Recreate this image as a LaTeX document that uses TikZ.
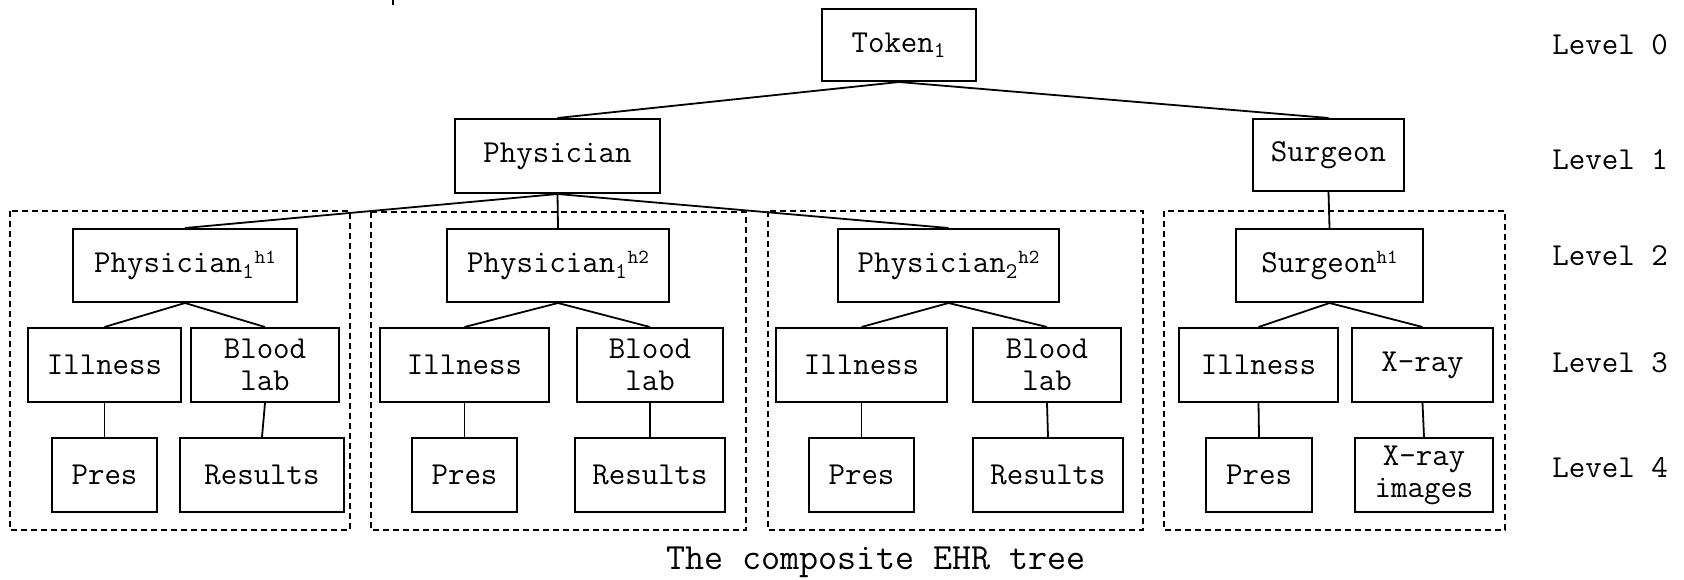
\documentclass[tikz,border=0pt]{standalone}
\usepackage{fontspec}
\setmonofont{Latin Modern Mono}
\newcommand\nodefont{\ttfamily\fontsize{16}{16}\selectfont}
\newcommand\capfont{\ttfamily\fontsize{18.5}{20}\selectfont}
\newcommand\sups[1]{\raisebox{0.3em}{\fontsize{10}{10}\selectfont #1}}
\begin{document}
\begin{tikzpicture}[x=0.5pt, y=-0.5pt,
  box/.style={draw, line width=1pt, inner sep=0pt, font=\nodefont, align=center},
  group/.style={draw, dash pattern=on 3pt off 2pt, line width=0.9pt},
  link/.style={line width=0.9pt},
  lvl/.style={anchor=west, inner sep=0pt, font=\nodefont}]
\useasboundingbox (0,0) rectangle (1684,579);

% stray tick at the top edge
\draw[line width=1.2pt] (393,0) -- (393,5);

% dashed groups
\draw[group] (10,211) rectangle (350,530);
\draw[group] (371,212) rectangle (746,530);
\draw[group] (768,211) rectangle (1143,530);
\draw[group] (1164,211) rectangle (1505,530);

% level 0 and 1
\node[box, minimum width=77pt, minimum height=36pt] (tok) at (899,45) {Token\textsubscript{1}};
\node[box, minimum width=102.5pt, minimum height=37pt] (phy) at (557.5,156) {Physician};
\node[box, minimum width=75.5pt, minimum height=36pt] (sur) at (1328.5,155) {Surgeon};

% level 2
\node[box, minimum width=112pt, minimum height=36.5pt] (pa) at (185,265.5) {Physician\textsubscript{1}\sups{h1}};
\node[box, minimum width=111pt, minimum height=36.5pt] (pb) at (558,265.5) {Physician\textsubscript{1}\sups{h2}};
\node[box, minimum width=110.5pt, minimum height=36.5pt] (pc) at (948.5,265.5) {Physician\textsubscript{2}\sups{h2}};
\node[box, minimum width=93.5pt, minimum height=36.5pt] (sa) at (1329.5,265.5) {Surgeon\sups{h1}};

% level 3
\node[box, minimum width=76.5pt, minimum height=37pt] (ia) at (104.5,365) {Illness};
\node[box, minimum width=74pt, minimum height=37pt] (ba) at (265,365) {Blood\\lab};
\node[box, minimum width=84.5pt, minimum height=37pt] (ib) at (464.5,365) {Illness};
\node[box, minimum width=73pt, minimum height=37pt] (bb) at (650,365) {Blood\\lab};
\node[box, minimum width=85.5pt, minimum height=37pt] (ic) at (861.5,365) {Illness};
\node[box, minimum width=74pt, minimum height=37pt] (bc) at (1047,365) {Blood\\lab};
\node[box, minimum width=79.5pt, minimum height=37pt] (id) at (1258.5,365) {Illness};
\node[box, minimum width=70.5pt, minimum height=37pt] (xd) at (1422.5,365) {X-ray};

% level 4
\node[box, minimum width=52.5pt, minimum height=37pt] (pra) at (104.5,475) {Pres};
\node[box, minimum width=82pt, minimum height=37pt] (ra) at (262,475) {Results};
\node[box, minimum width=52.5pt, minimum height=37pt] (prb) at (464.5,475) {Pres};
\node[box, minimum width=75pt, minimum height=37pt] (rb) at (650,475) {Results};
\node[box, minimum width=52.5pt, minimum height=37pt] (prc) at (861.5,475) {Pres};
\node[box, minimum width=75pt, minimum height=37pt] (rc) at (1048,475) {Results};
\node[box, minimum width=53pt, minimum height=37pt] (prd) at (1259,475) {Pres};
\node[box, minimum width=69pt, minimum height=37pt] (xid) at (1424,475) {X-ray\\images};

% connectors
\draw[link] (tok.south) -- (phy.north);
\draw[link] (tok.south) -- (sur.north);
\draw[link] (phy.south) -- (pa.north);
\draw[link] (phy.south) -- (pb.north);
\draw[link] (phy.south) -- (pc.north);
\draw[link] (sur.south) -- (sa.north);
\foreach \p/\l/\r in {pa/ia/ba, pb/ib/bb, pc/ic/bc, sa/id/xd}{
  \draw[link] (\p.south) -- (\l.north);
  \draw[link] (\p.south) -- (\r.north);
}
\foreach \u/\d in {ia/pra, ba/ra, ib/prb, bb/rb, ic/prc, bc/rc, id/prd, xd/xid}{
  \draw[link] (\u.south) -- (\d.north);
}

% level labels
\node[lvl] (l0) at (1552,45) {Level 0};
\node[lvl] (l1) at (1552,160) {Level 1};
\node[lvl] (l2) at (1552,256) {Level 2};
\node[lvl] (l3) at (1552,363) {Level 3};
\node[lvl] (l4) at (1552,468) {Level 4};

% caption
\node[inner sep=0pt, font=\capfont] (cap) at (876,562) {The composite EHR tree};
\end{tikzpicture}
\end{document}
